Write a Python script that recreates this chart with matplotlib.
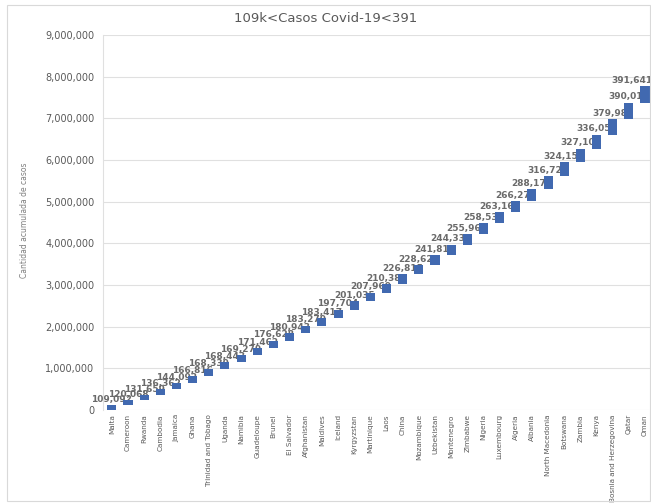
import matplotlib
matplotlib.use("Agg")
import matplotlib.pyplot as plt
from matplotlib.patches import Rectangle
import numpy as np

countries = ["Malta", "Cameroon", "Rwanda", "Cambodia", "Jamaica", "Ghana",
             "Trinidad and Tobago", "Uganda", "Namibia", "Guadeloupe", "Brunei",
             "El Salvador", "Afghanistan", "Maldives", "Iceland", "Kyrgyzstan",
             "Martinique", "Laos", "China", "Mozambique", "Uzbekistan", "Montenegro",
             "Zimbabwe", "Nigeria", "Luxembourg", "Algeria", "Albania",
             "North Macedonia", "Botswana", "Zambia", "Kenya",
             "Bosnia and Herzegovina", "Qatar", "Oman"]
cases = [109092, 120068, 131659, 136362, 144092, 166816, 168339, 168443, 169279,
         171462, 176628, 180943, 183279, 183417, 197704, 201035, 207969, 210383,
         226815, 228627, 241816, 244331, 255969, 258537, 263164, 266272, 288179,
         316724, 324155, 327108, 336059, 379984, 390015, 391641]
yticks = [0, 1000000, 2000000, 3000000, 4000000, 5000000, 6000000, 7000000,
          8000000, 9000000]

title = "109k<Casos Covid-19<391"
ylabel = "Cantidad acumulada de casos"

vals = np.array(cases, dtype=float)
tops = np.cumsum(vals)
bottoms = tops - vals
x = np.arange(len(countries))

fig = plt.figure(figsize=(6.51, 5.04), dpi=100)
fig.patches.append(Rectangle((0.011, 0.006), 0.987, 0.984, transform=fig.transFigure,
                             fill=False, edgecolor="#d9d9d9", linewidth=0.8))
ax = fig.add_axes([0.158, 0.1865, 0.842, 0.744])

ax.bar(x, vals, bottom=bottoms, width=0.56, color="#4169B0", zorder=3)

off = 140000
n = len(x)
for i, (xi, t, v) in enumerate(zip(x, tops, vals)):
    if i == n - 1:
        ax.text(xi + 0.45, t + off, f"{int(v):,}", ha="right", va="center",
                fontsize=6.5, color="#6a6a6a", fontweight="bold", zorder=2)
    else:
        ax.text(xi, t + off, f"{int(v):,}", ha="center", va="center",
                fontsize=6.5, color="#6a6a6a", fontweight="bold", zorder=2)

ax.set_xlim(-0.557, 33.37)
ax.set_ylim(0, 9000000)
ax.set_yticks(yticks)
ax.set_yticklabels([f"{t:,}" for t in yticks], fontsize=7, color="#595959")
ax.set_xticks(x)
ax.set_xticklabels(countries, rotation=90, fontsize=5.2, color="#595959")
ax.tick_params(axis="both", length=0, pad=6)
ax.tick_params(axis="x", pad=3)
ax.grid(axis="y", color="#e0e0e0", linewidth=0.8, zorder=0)
ax.set_axisbelow(True)
for s in ["top", "right", "bottom"]:
    ax.spines[s].set_visible(False)
ax.spines["left"].set_color("#e0e0e0")
ax.spines["left"].set_linewidth(0.8)

fig.text(0.5, 0.964, title, ha="center", va="center", fontsize=9.5, color="#595959")
fig.text(0.037, 0.563, ylabel, rotation=90, ha="center", va="center",
         fontsize=5.5, color="#7f7f7f")

fig.savefig("out.png", dpi=100)
